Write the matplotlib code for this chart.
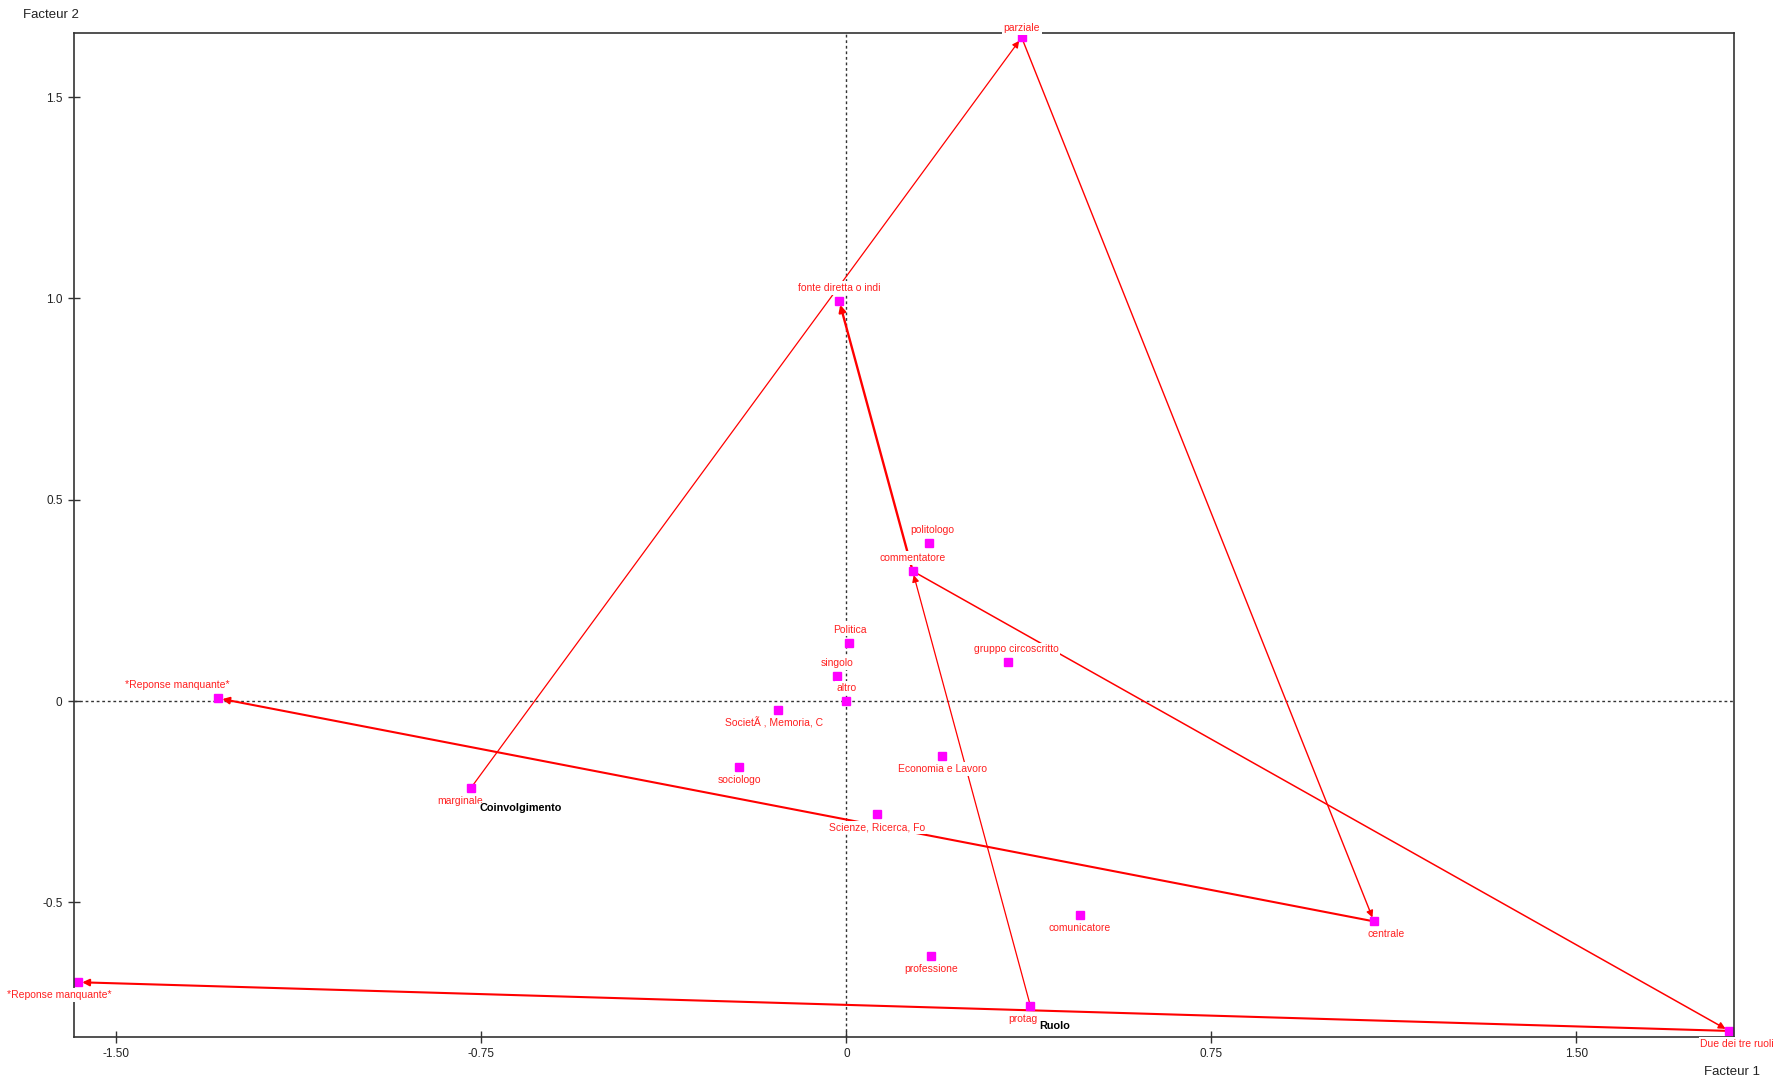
import matplotlib.pyplot as plt

plt.rcParams['font.family'] = ['Liberation Sans Narrow', 'Liberation Sans', 'DejaVu Sans']

# modality coordinates on the two factors
labels = ["parziale", "fonte diretta o indi", "politologo", "commentatore", "Politica",
          "singolo", "altro", "gruppo circoscritto", "*Reponse manquante*", "SocietÃ , Memoria, C",
          "sociologo", "Economia e Lavoro", "marginale", "Scienze, Ricerca, Fo", "centrale",
          "comunicatore", "professione", "protag", "*Reponse manquante*", "Due dei tre ruoli"]
f1 = [0.360, -0.015, 0.170, 0.136, 0.006, -0.020, 0.000, 0.332, -1.291, -0.141,
      -0.220, 0.197, -0.772, 0.062, 1.084, 0.480, 0.174, 0.378, -1.579, 1.814]
f2 = [1.648, 0.994, 0.393, 0.323, 0.145, 0.063, 0.001, 0.096, 0.007, -0.022,
      -0.163, -0.136, -0.216, -0.281, -0.547, -0.531, -0.634, -0.757, -0.698, -0.819]

# trajectories (index from -> index to)
segments = [(12, 0), (0, 14), (14, 8),           # Coinvolgimento
            (17, 3), (3, 1), (3, 19), (19, 18)]  # Ruolo
variables = ["Coinvolgimento", "Ruolo"]
var_start = [12, 17]

xticks = [-1.5, -0.75, 0, 0.75, 1.5]
xticklabels = ["-1.50", "-0.75", "0", "0.75", "1.50"]
yticks = [-0.5, 0, 0.5, 1.0, 1.5]
yticklabels = ["-0.5", "0", "0.5", "1.0", "1.5"]

# label placement in pixels (dx, dy)
above = {0, 1, 2, 3, 4, 5, 6, 7, 8}
dx = {2: 3, 7: 8, 9: -4, 8: -41, 18: -19, 19: 8, 14: 12, 12: -11, 17: -8}
dy = {0: 9}
seg_lw = [0.9, 1.0, 1.5, 0.9, 1.7, 1.1, 1.5]

fig = plt.figure(figsize=(17.79, 10.83), dpi=100)
ax = fig.add_axes([0.0414, 0.0425, 0.9331, 0.927])

ax.axhline(0, color='#333333', lw=1, ls=(0, (2, 2)), zorder=1)
ax.axvline(0, color='#333333', lw=1, ls=(0, (2, 2)), zorder=1)

for (a, b), lw in zip(segments, seg_lw):
    ax.annotate('', xy=(f1[b], f2[b]), xytext=(f1[a], f2[a]),
                arrowprops=dict(arrowstyle='-|>', color='red', lw=lw,
                                mutation_scale=10, shrinkA=0, shrinkB=3), zorder=2)

ax.plot(f1, f2, 's', color='#ff00ff', ms=5.5, zorder=3, linestyle='none')

for i, name in enumerate(labels):
    off = (dx.get(i, 0), dy.get(i, 13 if i in above else -13))
    ax.annotate(name, (f1[i], f2[i]), xytext=off, textcoords='offset pixels',
                ha='center', va='center', color='#ff2020', fontsize=7.5, zorder=4,
                bbox=dict(facecolor='white', edgecolor='none', pad=1.3), annotation_clip=False)

for name, i in zip(variables, var_start):
    ax.annotate(name, (f1[i], f2[i]), xytext=(9, -20), textcoords='offset pixels',
                ha='left', va='center', color='black', fontsize=7.8, fontweight='bold', zorder=5,
                bbox=dict(facecolor='white', edgecolor='none', pad=0.3))

ax.set_xlim(-1.588, 1.823)
ax.set_ylim(-0.834, 1.659)
ax.set_xticks(xticks)
ax.set_xticklabels(xticklabels)
ax.set_yticks(yticks)
ax.set_yticklabels(yticklabels)
ax.tick_params(direction='inout', length=8, width=1, color='#333333', labelsize=8.5,
               labelcolor='#222222', pad=4)
for s in ax.spines.values():
    s.set_color('#333333')
    s.set_linewidth(1.2)
    s.set_zorder(3.5)

fig.text(23 / 1779, 1 - 15 / 1083, 'Facteur 2', fontsize=9.5, va='center', ha='left', color='#222222')
fig.text(1704 / 1779, 1 - 1072 / 1083, 'Facteur 1', fontsize=9.5, va='center', ha='left', color='#222222')

plt.savefig('out.png', dpi=100)
plt.close()
